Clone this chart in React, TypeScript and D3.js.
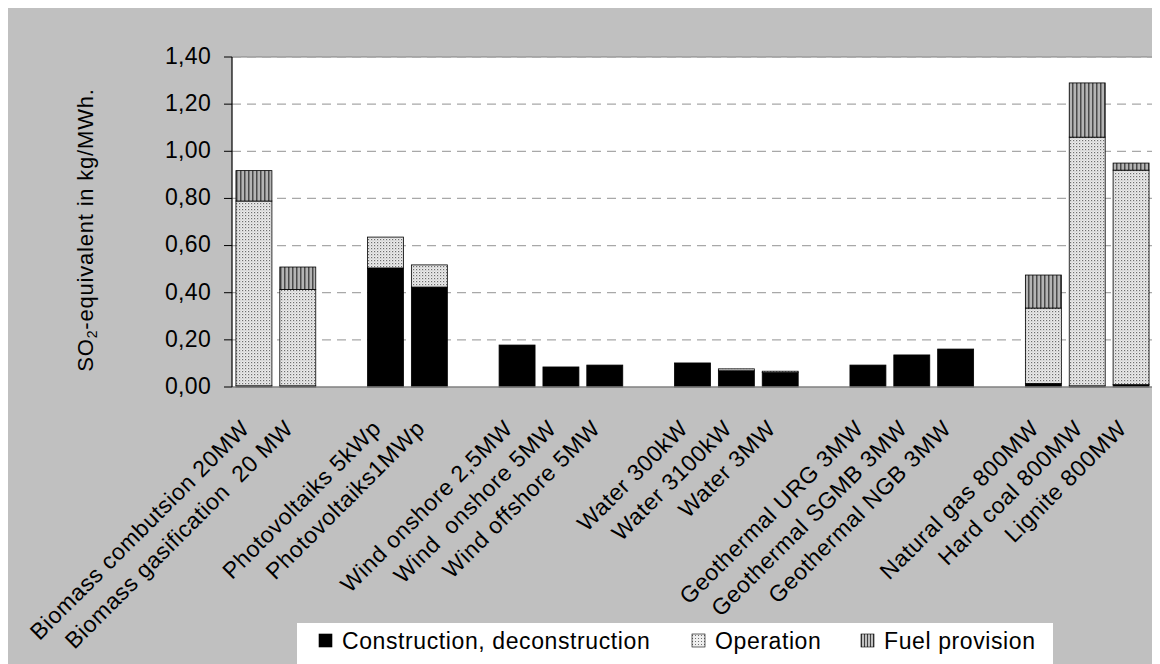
import * as d3 from "d3";

// null marks an empty slot between technology groups
const categories: (string | null)[] = [
  "Biomass combutsion 20MW",
  "Biomass gasification  20 MW",
  null,
  "Photovoltaiks 5kWp",
  "Photovoltaiks1MWp",
  null,
  "Wind onshore 2,5MW",
  "Wind  onshore 5MW",
  "Wind offshore 5MW",
  null,
  "Water 300kW",
  "Water 3100kW",
  "Water 3MW",
  null,
  "Geothermal URG 3MW",
  "Geothermal SGMB 3MW",
  "Geothermal NGB 3MW",
  null,
  "Natural gas 800MW",
  "Hard coal 800MW",
  "Lignite 800MW",
];

const construction = [0.005, 0.005, 0, 0.505, 0.424, 0, 0.178, 0.085, 0.093, 0, 0.102, 0.069, 0.061, 0, 0.093, 0.136, 0.161, 0, 0.015, 0.005, 0.01];
const operation = [0.784, 0.409, 0, 0.131, 0.094, 0, 0, 0, 0, 0, 0, 0.008, 0.006, 0, 0, 0, 0, 0, 0.32, 1.055, 0.91];
const fuel = [0.129, 0.095, 0, 0, 0, 0, 0, 0, 0, 0, 0, 0, 0, 0, 0, 0, 0, 0, 0.14, 0.23, 0.03];

const yTicks = [0, 0.2, 0.4, 0.6, 0.8, 1.0, 1.2, 1.4];
const seriesNames = ["Construction, deconstruction", "Operation", "Fuel provision"];

const W = 1152;
const H = 656;
const plot = { left: 224, top: 49, right: 1145, bottom: 379 };
const font = "'Liberation Sans', Arial, sans-serif";

const fills = ["#000000", "url(#dots)", "url(#stripes)"];

export default function App() {
  const x = d3
    .scaleBand<number>()
    .domain(d3.range(categories.length))
    .range([plot.left, plot.right])
    .paddingInner(0.18)
    .paddingOuter(0.09);
  const y = d3.scaleLinear().domain([0, 1.4]).range([plot.bottom, plot.top]);
  const fmt = (v: number) => d3.format(".2f")(v).replace(".", ",");

  const rows = categories.map((c, i) => ({ i, c, construction: construction[i], operation: operation[i], fuel: fuel[i] }));
  const stack = d3.stack<any>().keys(["construction", "operation", "fuel"])(rows);

  return (
    <svg width={W} height={H} style={{ display: "block", fontFamily: font }}>
      <defs>
        <pattern id="dots" width="3" height="3" patternUnits="userSpaceOnUse">
          <rect width="3" height="3" fill="#ececec" />
          <rect x="0" y="0" width="1.2" height="1.2" fill="#6e6e6e" />
          <rect x="1.5" y="1.5" width="1" height="1" fill="#b0b0b0" />
        </pattern>
        <pattern id="stripes" width="4" height="4" patternUnits="userSpaceOnUse">
          <rect width="4" height="4" fill="#b4b4b4" />
          <rect x="0" y="0" width="1.5" height="4" fill="#4a4a4a" />
        </pattern>
        <pattern id="dotsLeg" width="3" height="3" patternUnits="userSpaceOnUse">
          <rect width="3" height="3" fill="#eeeeee" />
          <rect width="1" height="1" fill="#707070" />
        </pattern>
        <pattern id="stripesLeg" width="3" height="3" patternUnits="userSpaceOnUse">
          <rect width="3" height="3" fill="#c0c0c0" />
          <rect width="1" height="3" fill="#404040" />
        </pattern>
      </defs>
      <rect width={W} height={H} fill="#c0c0c0" />
      <rect x={plot.left} y={plot.top} width={plot.right - plot.left} height={plot.bottom - plot.top} fill="#ffffff" />
      <line x1={plot.left} x2={plot.right} y1={plot.top} y2={plot.top} stroke="#808080" strokeWidth={1} />

      {yTicks.slice(1).map((t) => (
        <line key={t} x1={plot.left} x2={plot.right} y1={y(t)} y2={y(t)} stroke="#a8a8a8" strokeWidth={1.3} strokeDasharray="9,6" />
      ))}

      {stack.map((s, k) => (
        <g key={k}>
          {s.map((d, i) =>
            categories[i] === null || d[1] - d[0] <= 0 ? null : (
              <rect
                key={i}
                x={x(i)}
                y={y(d[1])}
                width={x.bandwidth()}
                height={y(d[0]) - y(d[1])}
                fill={fills[k]}
                stroke="#000"
                strokeWidth={0.8}
              />
            )
          )}
        </g>
      ))}

      <line x1={plot.left} x2={plot.right} y1={plot.bottom} y2={plot.bottom} stroke="#808080" strokeWidth={1.5} />
      <line x1={plot.left} x2={plot.left} y1={plot.top} y2={plot.bottom} stroke="#000" strokeWidth={1.2} />
      {yTicks.map((t) => (
        <g key={t} transform={`translate(${plot.left},${y(t)})`}>
          <line x1={-8} x2={0} stroke="#000" strokeWidth={1} />
          <text x={-21} dy="0.3em" textAnchor="end" fontSize={23} fill="#000" letterSpacing={0.3}>
            {fmt(t)}
          </text>
        </g>
      ))}

      <text transform={`translate(77,${(plot.top + plot.bottom) / 2 + 8}) rotate(-90)`} textAnchor="middle" fontSize={22} dy="0.36em" letterSpacing={0.8}>
        SO<tspan fontSize={14} dy="4">2</tspan>
        <tspan dy="-4">-equivalent in kg/MWh.</tspan>
      </text>

      {categories.map((c, i) =>
        c === null ? null : (
          <text
            key={i}
            transform={`translate(${(x(i) as number) + x.bandwidth() / 2 - 9},${plot.bottom + 37}) rotate(-45)`}
            textAnchor="end"
            dy="0.36em"
            fontSize={23}
            fill="#000"
            letterSpacing={0.6}
            style={{ whiteSpace: "pre" }}
          >
            {c}
          </text>
        )
      )}

      <g transform="translate(289,615)">
        <rect width={756} height={41} fill="#ffffff" />
        {seriesNames.map((n, k) => {
          const offs = [22, 395, 564];
          const legFills = ["#000", "url(#dotsLeg)", "url(#stripesLeg)"];
          return (
            <g key={n} transform={`translate(${offs[k]},18)`}>
              <rect x={0} y={-7} width={13} height={13} fill={legFills[k]} stroke="#000" strokeWidth={0.6} />
              <text x={23} dy="0.36em" fontSize={23} fill="#000" letterSpacing={0.6}>
                {n}
              </text>
            </g>
          );
        })}
      </g>
    </svg>
  );
}
